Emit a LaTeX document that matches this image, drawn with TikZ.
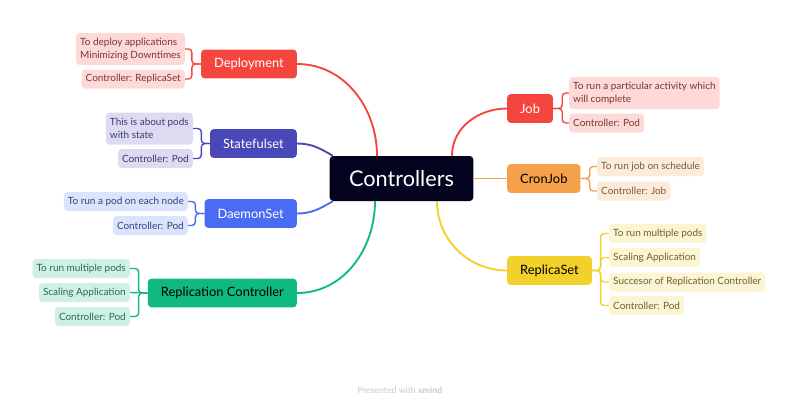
\documentclass[tikz,border=0pt]{standalone}
\usepackage{fontspec}
\setmainfont{Lato}
\usetikzlibrary{positioning,backgrounds}

\definecolor{rootc}{HTML}{03031F}
\definecolor{depc}{HTML}{F4463F}
\definecolor{depl}{HTML}{FDDAD8}
\definecolor{dept}{HTML}{7A3532}
\definecolor{stsc}{HTML}{4A47B9}
\definecolor{stsl}{HTML}{DDDBF1}
\definecolor{stst}{HTML}{3C3A6E}
\definecolor{dsc}{HTML}{4A6CF5}
\definecolor{dsl}{HTML}{DCE3FD}
\definecolor{dst}{HTML}{33427A}
\definecolor{rcc}{HTML}{10BA7E}
\definecolor{rcl}{HTML}{CFF1E3}
\definecolor{rct}{HTML}{2B6A52}
\definecolor{cjc}{HTML}{F5A04A}
\definecolor{cjl}{HTML}{FDEBDA}
\definecolor{cjt}{HTML}{7A5A3A}
\definecolor{rsc}{HTML}{F2D12A}
\definecolor{rsl}{HTML}{FCF5D3}
\definecolor{rst}{HTML}{6E6230}

\tikzset{
  root/.style={fill=rootc, text=white, rounded corners=3pt, font=\fontsize{18.5}{20}\selectfont,
    minimum height=1.35cm, inner xsep=0.58cm},
  topic/.style={fill=#1, text=white, rounded corners=3pt, font=\fontsize{11}{13}\selectfont,
    minimum height=0.86cm, inner xsep=0.39cm},
  leaf/.style 2 args={fill=#1, text=#2, rounded corners=3pt, font=\fontsize{8.5}{11.5}\selectfont,
    minimum height=0.57cm, inner xsep=0.12cm, align=left},
  trunk/.style={line width=1.6pt},
  bracket/.style={line width=1.2pt, rounded corners=3pt},
  footer/.style={text=black!22, font=\fontsize{7.5}{9}\selectfont}
}

\begin{document}
\begin{tikzpicture}[x=0.03cm, y=-0.03cm]
  \useasboundingbox (0,0) rectangle (800,407);

  \node[root] (ctrl) at (401.5,178.5) {Controllers};

  \node[topic=depc, anchor=east] (dep) at (297,64) {Deployment};
  \node[topic=stsc, anchor=east] (sts) at (297,143.5) {Statefulset};
  \node[topic=dsc, anchor=east] (ds) at (297,213.5) {DaemonSet};
  \node[topic=rcc, text=black, anchor=east] (rc) at (297,293) {Replication Controller};
  \node[topic=depc, anchor=west] (job) at (507,108.5) {Job};
  \node[topic=cjc, text=black, anchor=west] (cj) at (507,178.5) {CronJob};
  \node[topic=rsc, text=black, anchor=west] (rs) at (507,270.5) {ReplicaSet};

  \node[leaf={depl}{dept}, anchor=east, minimum height=0.96cm] (dep1) at (185,49) {To deploy applications\\Minimizing Downtimes};
  \node[leaf={depl}{dept}, anchor=east] (dep2) at (185,79) {Controller: ReplicaSet};
  \node[leaf={stsl}{stst}, anchor=east, minimum height=0.96cm] (sts1) at (193,128.5) {This is about pods\\with state};
  \node[leaf={stsl}{stst}, anchor=east] (sts2) at (193,158.5) {Controller: Pod};
  \node[leaf={dsl}{dst}, anchor=east] (ds1) at (188,201.5) {To run a pod on each node};
  \node[leaf={dsl}{dst}, anchor=east] (ds2) at (188,225.5) {Controller: Pod};
  \node[leaf={rcl}{rct}, anchor=east] (rc1) at (130,268.5) {To run multiple pods};
  \node[leaf={rcl}{rct}, anchor=east] (rc2) at (130,292.5) {Scaling Application};
  \node[leaf={rcl}{rct}, anchor=east] (rc3) at (130,316.5) {Controller: Pod};
  \node[leaf={depl}{dept}, anchor=west, minimum height=0.96cm] (job1) at (569,93) {To run a particular activity which\\will complete};
  \node[leaf={depl}{dept}, anchor=west] (job2) at (569,123) {Controller: Pod};
  \node[leaf={cjl}{cjt}, anchor=west] (cj1) at (597,166.5) {To run job on schedule};
  \node[leaf={cjl}{cjt}, anchor=west] (cj2) at (597,191) {Controller: Job};
  \node[leaf={rsl}{rst}, anchor=west] (rs1) at (609,233.5) {To run multiple pods};
  \node[leaf={rsl}{rst}, anchor=west] (rs2) at (609,257.5) {Scaling Application};
  \node[leaf={rsl}{rst}, anchor=west] (rs3) at (609,282) {Succesor of Replication Controller};
  \node[leaf={rsl}{rst}, anchor=west] (rs4) at (609,305.5) {Controller: Pod};

  \node[footer] (credit) at (400,390) {Presented with \textbf{xmind}};

  \begin{scope}[on background layer]
    \draw[trunk, depc] ([xshift=-0.735cm]ctrl.north) to[out=90, in=0] (dep.east);
    \draw[trunk, stsc] ([xshift=0.1cm]ctrl.north west) to[out=150, in=0] (sts.east);
    \draw[trunk, dsc] ([xshift=0.1cm]ctrl.south west) to[out=-150, in=0] (ds.east);
    \draw[trunk, rcc] ([xshift=-0.795cm]ctrl.south) to[out=-90, in=0] (rc.east);
    \draw[trunk, depc] ([xshift=1.515cm]ctrl.north) to[out=90, in=180] (job.west);
    \draw[trunk, cjc] (ctrl.east) -- (cj.west);
    \draw[trunk, rsc] ([xshift=1.065cm]ctrl.south) to[out=-90, in=180] (rs.west);

    \draw[bracket, depc] (dep.west) -- ++(-9,0) |- (dep1.east);
    \draw[bracket, depc] (dep.west) -- ++(-9,0) |- (dep2.east);
    \draw[bracket, stsc] (sts.west) -- ++(-8.5,0) |- (sts1.east);
    \draw[bracket, stsc] (sts.west) -- ++(-8.5,0) |- (sts2.east);
    \draw[bracket, dsc] (ds.west) -- ++(-9,0) |- (ds1.east);
    \draw[bracket, dsc] (ds.west) -- ++(-9,0) |- (ds2.east);
    \draw[bracket, rcc] (rc.west) -- ++(-9,0) |- (rc1.east);
    \draw[bracket, rcc] (rc.west) -- (rc2.east);
    \draw[bracket, rcc] (rc.west) -- ++(-9,0) |- (rc3.east);
    \draw[bracket, depc] (job.east) -- ++(9,0) |- (job1.west);
    \draw[bracket, depc] (job.east) -- ++(9,0) |- (job2.west);
    \draw[bracket, cjc] (cj.east) -- ++(9,0) |- (cj1.west);
    \draw[bracket, cjc] (cj.east) -- ++(9,0) |- (cj2.west);
    \draw[bracket, rsc] (rs.east) -- ++(8.5,0) |- (rs1.west);
    \draw[bracket, rsc] (rs.east) -- ++(8.5,0) |- (rs2.west);
    \draw[bracket, rsc] (rs.east) -- ++(8.5,0) |- (rs3.west);
    \draw[bracket, rsc] (rs.east) -- ++(8.5,0) |- (rs4.west);
  \end{scope}
\end{tikzpicture}
\end{document}
